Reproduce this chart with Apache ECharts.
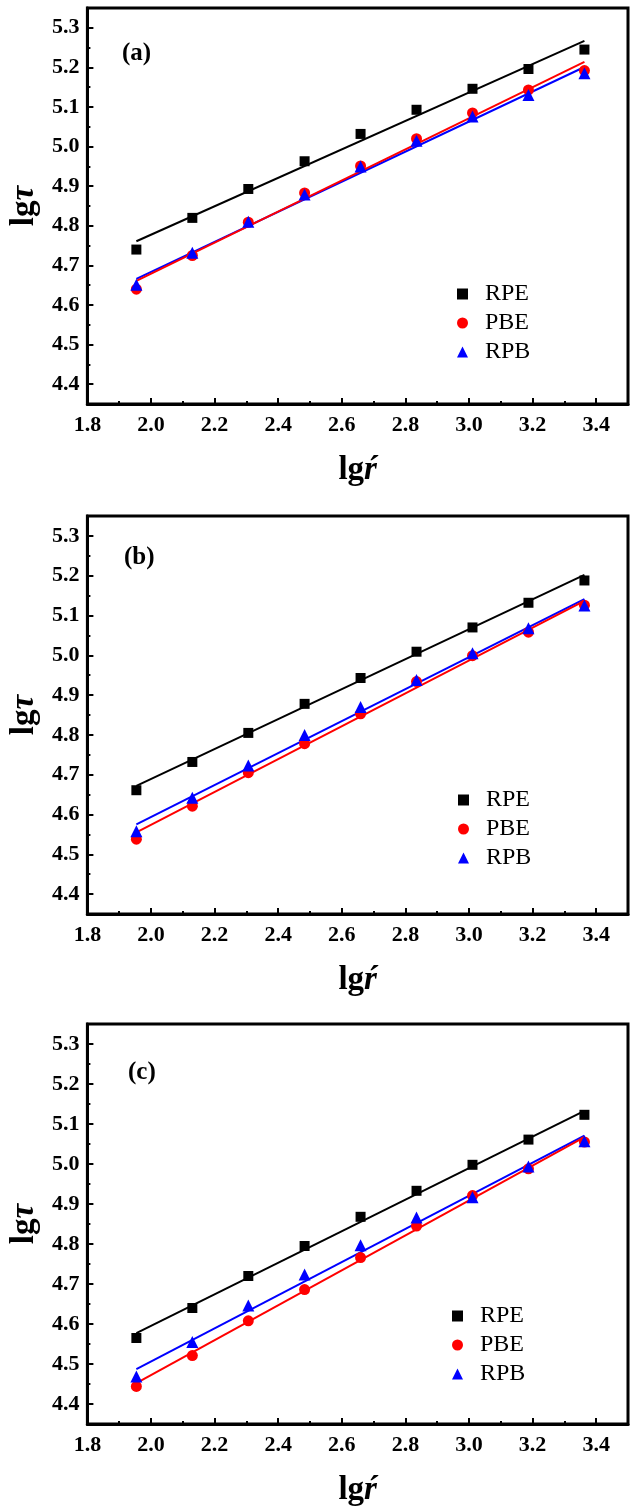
<!DOCTYPE html>
<html>
<head>
<meta charset="utf-8">
<script src="https://cdn.jsdelivr.net/npm/echarts@6/dist/echarts.min.js"></script>
<style>
html,body{margin:0;padding:0;background:#fff;}
#chart{width:633px;height:1509px;}
</style>
</head>
<body>
<div id="chart"></div>
<script>
// ---- data ----
const xVals = [1.954, 2.130, 2.306, 2.483, 2.659, 2.835, 3.011, 3.187, 3.363];
const fitX = [1.954, 3.363];

const rpeA = [4.740, 4.820, 4.893, 4.963, 5.032, 5.093, 5.146, 5.196, 5.245];
const pbeA = [4.640, 4.725, 4.809, 4.883, 4.951, 5.020, 5.085, 5.143, 5.192];
const rpbA = [4.651, 4.732, 4.810, 4.879, 4.950, 5.015, 5.076, 5.130, 5.185];
const fitRpeA = [4.761, 5.267];
const fitPbeA = [4.661, 5.214];
const fitRpbA = [4.666, 5.201];

const rpeB = [4.661, 4.732, 4.805, 4.878, 4.943, 5.009, 5.070, 5.132, 5.188];
const pbeB = [4.538, 4.621, 4.705, 4.778, 4.853, 4.934, 4.999, 5.058, 5.126];
const rpbB = [4.558, 4.642, 4.723, 4.800, 4.870, 4.938, 5.005, 5.068, 5.125];
const fitRpeB = [4.672, 5.202];
const fitPbeB = [4.555, 5.137];
const fitRpbB = [4.575, 5.141];

const rpeC = [4.565, 4.640, 4.720, 4.795, 4.868, 4.933, 4.998, 5.061, 5.123];
const pbeC = [4.444, 4.521, 4.608, 4.686, 4.766, 4.845, 4.921, 4.988, 5.055];
const rpbC = [4.469, 4.555, 4.646, 4.724, 4.797, 4.866, 4.917, 4.994, 5.057];
const fitRpeC = [4.577, 5.133];
const fitPbeC = [4.452, 5.067];
const fitRpbC = [4.487, 5.071];

const xMajor = [1.8, 2.0, 2.2, 2.4, 2.6, 2.8, 3.0, 3.2, 3.4];
const xMinor = [1.9, 2.1, 2.3, 2.5, 2.7, 2.9, 3.1, 3.3];
const yMajor = [4.4, 4.5, 4.6, 4.7, 4.8, 4.9, 5.0, 5.1, 5.2, 5.3];
const yMinor = [4.45, 4.55, 4.65, 4.75, 4.85, 4.95, 5.05, 5.15, 5.25];
const seriesNames = ['RPE', 'PBE', 'RPB'];
const panelLabels = ['(a)', '(b)', '(c)'];

// ---- layout ----
const FONT = 'Liberation Serif, Times New Roman, serif';
const panels = [
  {label: panelLabels[0], top: 8, height: 396, data: [rpeA, pbeA, rpbA], fits: [fitRpeA, fitPbeA, fitRpbA], legendTop: 277, legendLeft: 452, labelTop: 41, labelLeft: 122},
  {label: panelLabels[1], top: 516, height: 398, data: [rpeB, pbeB, rpbB], fits: [fitRpeB, fitPbeB, fitRpbB], legendTop: 783, legendLeft: 453, labelTop: 545, labelLeft: 124},
  {label: panelLabels[2], top: 1024, height: 400, data: [rpeC, pbeC, rpbC], fits: [fitRpeC, fitPbeC, fitRpbC], legendTop: 1299, legendLeft: 447, labelTop: 1060, labelLeft: 128}
];
const colors = ['#000000', '#ff0000', '#0000ff'];
const symbols = ['rect', 'circle', 'triangle'];
const symSizes = [10, 11, 12];

const grid = [], xAxis = [], yAxis = [], series = [], legend = [], title = [];

panels.forEach((p, i) => {
  grid.push({left: 87, right: 5, top: p.top, height: p.height, show: true,
    borderColor: '#000', borderWidth: 3, backgroundColor: 'transparent', containLabel: false});
  xAxis.push({
    type: 'value', gridIndex: i, min: 1.8, max: 3.5, position: 'bottom',
    name: '{a|lg}{b|ŕ}', nameLocation: 'middle', nameGap: 50,
    nameTextStyle: {rich: {
      a: {fontFamily: FONT, fontWeight: 'bold', fontSize: 33, color: '#000'},
      b: {fontFamily: FONT, fontWeight: 'bold', fontStyle: 'italic', fontSize: 33, color: '#000'}
    }},
    axisLine: {show: true, lineStyle: {color: '#000', width: 3}},
    axisTick: {show: true, inside: true, length: 6, lineStyle: {color: '#000', width: 2}, customValues: xMajor},
    axisLabel: {show: true, customValues: xMajor, margin: 10, fontFamily: FONT, fontWeight: 'bold', fontSize: 22, color: '#000',
      formatter: v => v.toFixed(1)},
    splitLine: {show: false}
  });
  xAxis.push({
    type: 'value', gridIndex: i, min: 1.8, max: 3.5, position: 'bottom',
    axisLine: {show: false},
    axisTick: {show: true, inside: true, length: 3, lineStyle: {color: '#000', width: 2}, customValues: xMinor},
    axisLabel: {show: false},
    splitLine: {show: false}
  });
  yAxis.push({
    type: 'value', gridIndex: i, min: 4.35, max: 5.35, position: 'left',
    name: '{a|lg}{b|τ}', nameLocation: 'middle', nameGap: 40,
    nameTextStyle: {rich: {
      a: {fontFamily: FONT, fontWeight: 'bold', fontSize: 33, color: '#000'},
      b: {fontFamily: FONT, fontWeight: 'bold', fontStyle: 'italic', fontSize: 33, color: '#000'}
    }},
    axisLine: {show: true, lineStyle: {color: '#000', width: 3}},
    axisTick: {show: true, inside: true, length: 6, lineStyle: {color: '#000', width: 2}, customValues: yMajor},
    axisLabel: {show: true, customValues: yMajor, margin: 8, fontFamily: FONT, fontWeight: 'bold', fontSize: 22, color: '#000',
      formatter: v => v.toFixed(1)},
    splitLine: {show: false}
  });
  yAxis.push({
    type: 'value', gridIndex: i, min: 4.35, max: 5.35, position: 'left',
    axisLine: {show: false},
    axisTick: {show: true, inside: true, length: 3, lineStyle: {color: '#000', width: 2}, customValues: yMinor},
    axisLabel: {show: false},
    splitLine: {show: false}
  });
  [2, 1, 0].forEach(k => {
    series.push({
      type: 'line', name: seriesNames[k] + ' fit', xAxisIndex: 2 * i, yAxisIndex: 2 * i,
      data: fitX.map((x, j) => [x, p.fits[k][j]]),
      showSymbol: false, symbol: 'none', lineStyle: {color: colors[k], width: 2}, z: 2, silent: true
    });
  });
  [0, 1, 2].forEach(k => {
    series.push({
      type: 'scatter', name: seriesNames[k], xAxisIndex: 2 * i, yAxisIndex: 2 * i,
      data: xVals.map((x, j) => [x, p.data[k][j]]),
      symbol: symbols[k], symbolSize: symSizes[k],
      itemStyle: {color: colors[k], opacity: 1}, z: 3
    });
  });
  legend.push({
    orient: 'vertical', left: p.legendLeft, top: p.legendTop,
    itemWidth: 11, itemHeight: 11, itemGap: 5, selectedMode: false,
    data: seriesNames.map((n, k) => ({name: n, icon: symbols[k], itemStyle: {color: colors[k], opacity: 1}})),
    textStyle: {fontFamily: FONT, fontSize: 24, color: '#000', padding: [0, 0, 0, 12], lineHeight: 23}
  });
  title.push({
    text: p.label, left: p.labelLeft, top: p.labelTop, padding: 0,
    textStyle: {fontFamily: FONT, fontWeight: 'bold', fontSize: 25, color: '#000'}
  });
});

const chart = echarts.init(document.getElementById('chart'), null, {renderer: 'canvas'});
chart.setOption({
  animation: false,
  backgroundColor: '#fff',
  title, grid, xAxis, yAxis, legend, series
});
</script>
</body>
</html>
